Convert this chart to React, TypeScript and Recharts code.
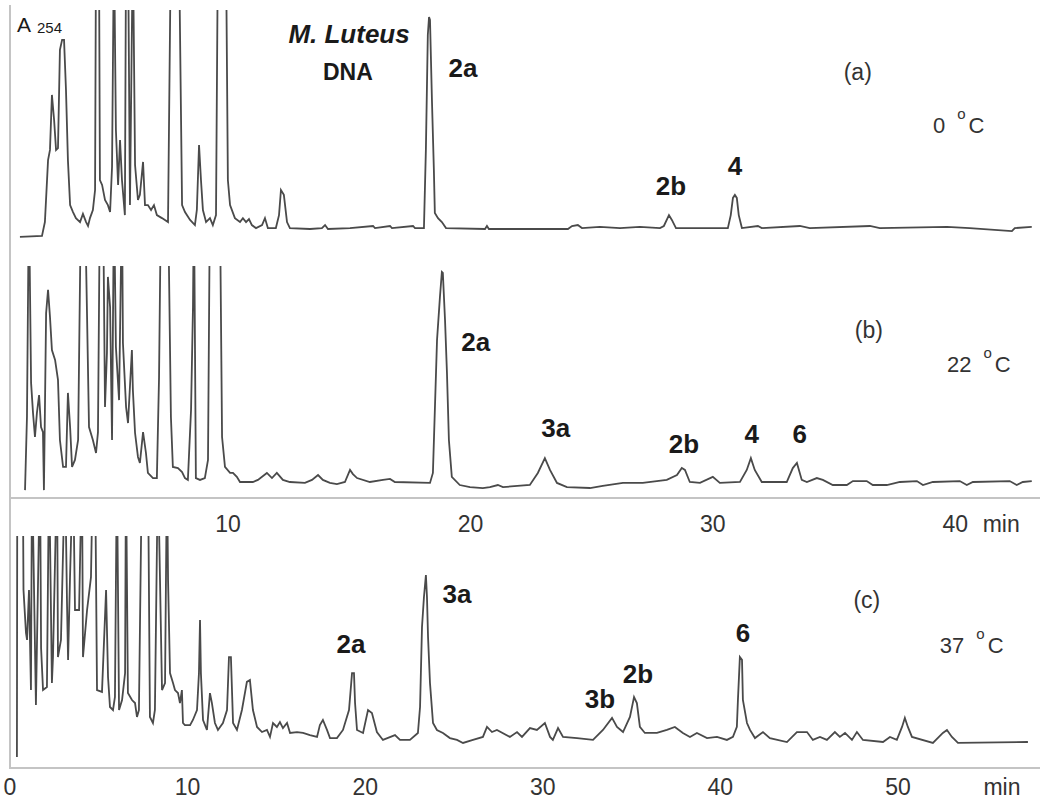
import React from 'react';
import { LineChart, Line, XAxis, YAxis, ReferenceDot } from 'recharts';

// [retention time (min), A254 (arb. units)] — values above 100 run off the top of the panel
const traceA: [number, number][] = [
  [1.41, 2.2], [2.32, 2.6], [2.44, 8.6], [2.57, 35.3], [2.65, 39.7], [2.73, 63.4], [2.82, 52.6],
  [2.9, 39.7], [2.98, 40.5], [3.06, 82.8], [3.15, 87.1], [3.23, 87.1], [3.31, 65.5], [3.39, 35.3],
  [3.48, 15.9], [3.6, 12.9], [3.72, 10.3], [3.89, 8.6], [4.01, 12.1], [4.14, 8.6], [4.22, 6.9],
  [4.3, 10.3], [4.42, 13.8], [4.51, 22.4], [4.55, 130], [4.67, 130], [4.71, 26.7], [4.8, 24.6],
  [4.92, 18.1], [5.04, 15.9], [5.13, 12.9], [5.21, 32.3], [5.29, 130], [5.37, 48.3], [5.46, 24.6],
  [5.54, 44.0], [5.62, 26.7], [5.74, 11.6], [5.79, 130], [5.87, 130], [5.95, 15.9], [6.07, 130],
  [6.16, 33.2], [6.28, 18.1], [6.36, 20.3], [6.49, 34.5], [6.57, 15.9], [6.69, 15.9], [6.82, 13.8],
  [6.94, 15.9], [7.06, 11.6], [7.27, 10.3], [7.52, 8.6], [7.64, 130], [7.97, 130], [8.1, 15.9],
  [8.22, 12.9], [8.43, 9.5], [8.63, 7.3], [8.71, 13.8], [8.8, 41.8], [8.88, 26.7], [8.96, 13.8],
  [9.09, 8.6], [9.25, 10.3], [9.37, 7.3], [9.5, 11.6], [9.58, 130], [9.91, 130], [9.99, 26.7],
  [10.08, 15.9], [10.28, 10.3], [10.49, 8.6], [10.61, 10.3], [10.74, 8.6], [10.86, 9.9], [10.98, 7.3],
  [11.15, 6.0], [11.4, 7.3], [11.52, 10.3], [11.64, 6.0], [11.97, 6.0], [12.1, 11.6], [12.18, 22.4],
  [12.3, 20.3], [12.43, 8.6], [12.55, 6.0], [13.38, 5.6], [13.87, 6.0], [14.0, 7.3], [14.12, 5.6],
  [15.03, 6.0], [15.98, 6.9], [16.06, 6.0], [16.68, 6.9], [16.76, 6.0], [17.63, 6.9], [17.71, 6.0],
  [18.08, 6.0], [18.16, 39.7], [18.24, 89.2], [18.29, 97.0], [18.33, 95.7], [18.41, 61.2], [18.49, 31.0],
  [18.53, 12.5], [18.66, 10.3], [18.82, 8.6], [18.99, 6.0], [20.6, 5.6], [20.68, 6.9], [20.76, 5.6],
  [24.02, 5.6], [24.19, 6.9], [24.43, 7.3], [24.6, 6.0], [25.34, 6.5], [26.17, 6.0], [26.99, 6.5],
  [27.82, 6.0], [27.98, 6.9], [28.19, 11.6], [28.31, 9.5], [28.48, 6.0], [30.62, 6.0], [30.74, 11.6],
  [30.83, 19.0], [30.91, 20.3], [30.99, 19.0], [31.07, 11.6], [31.2, 6.0], [31.86, 6.9], [32.02, 6.0],
  [33.59, 6.9], [34.0, 6.0], [36.48, 6.9], [36.89, 6.0], [39.66, 6.5], [40.6, 6.0], [42.34, 4.7],
  [42.46, 6.0], [43.16, 6.5],
];

const traceB: [number, number][] = [
  [1.62, 3.4], [1.7, 34.9], [1.78, 130], [1.87, 49.6], [1.95, 36.6], [2.03, 26.3], [2.11, 36.6],
  [2.2, 44.4], [2.28, 30.6], [2.36, 28.4], [2.4, 3.4], [2.49, 79.7], [2.57, 89.7], [2.65, 78.0],
  [2.73, 63.8], [2.86, 59.5], [2.98, 50.9], [3.06, 25.0], [3.19, 13.4], [3.31, 13.4], [3.39, 45.3],
  [3.48, 30.6], [3.56, 13.4], [3.68, 16.4], [3.81, 25.0], [3.93, 130], [4.09, 130], [4.18, 78.0],
  [4.26, 30.6], [4.42, 25.0], [4.55, 19.4], [4.63, 28.4], [4.71, 130], [4.84, 130], [4.92, 39.2],
  [5.0, 62.5], [5.04, 95.3], [5.13, 82.3], [5.21, 25.0], [5.29, 130], [5.37, 65.1], [5.5, 42.2],
  [5.62, 130], [5.66, 66.8], [5.79, 39.2], [5.87, 32.3], [6.03, 63.8], [6.07, 46.6], [6.16, 28.0],
  [6.28, 17.7], [6.36, 15.1], [6.49, 28.4], [6.61, 19.4], [6.69, 10.8], [6.9, 8.6], [7.06, 8.6],
  [7.15, 52.2], [7.23, 130], [7.52, 130], [7.64, 34.9], [7.72, 13.4], [7.93, 12.9], [8.1, 11.2],
  [8.22, 8.6], [8.34, 7.8], [8.47, 37.9], [8.55, 82.3], [8.59, 130], [8.67, 8.6], [8.84, 7.8],
  [9.04, 8.6], [9.17, 16.4], [9.25, 130], [9.66, 130], [9.75, 26.3], [9.87, 13.4], [10.08, 10.8],
  [10.2, 10.8], [10.36, 9.1], [10.49, 6.9], [11.02, 6.9], [11.23, 7.8], [11.6, 10.8], [11.81, 8.6],
  [12.01, 10.8], [12.26, 7.8], [12.55, 6.9], [13.17, 6.5], [13.46, 7.8], [13.71, 9.9], [13.91, 7.8],
  [14.2, 6.5], [14.49, 6.0], [14.82, 6.9], [15.03, 12.1], [15.15, 10.3], [15.32, 8.6], [15.85, 6.9],
  [16.39, 7.8], [16.68, 8.2], [16.88, 6.9], [18.33, 6.5], [18.45, 10.8], [18.62, 68.1], [18.74, 86.6],
  [18.82, 97.4], [18.86, 97.0], [18.95, 76.7], [19.03, 53.9], [19.11, 25.0], [19.23, 9.1], [19.56, 5.6],
  [19.98, 4.7], [20.51, 4.3], [20.8, 4.7], [21.13, 5.6], [21.34, 4.7], [22.45, 5.6], [22.78, 10.8],
  [23.07, 17.2], [23.28, 12.1], [23.57, 6.5], [23.98, 4.7], [24.93, 4.3], [25.46, 5.2], [26.29, 6.5],
  [27.11, 6.5], [28.1, 7.8], [28.52, 9.9], [28.72, 12.9], [28.85, 12.1], [29.05, 6.9], [29.47, 6.5],
  [30.0, 9.1], [30.29, 6.5], [31.12, 6.9], [31.4, 12.1], [31.57, 17.2], [31.73, 12.1], [32.02, 6.9],
  [33.05, 6.9], [33.3, 12.9], [33.47, 15.1], [33.67, 7.8], [33.88, 6.9], [34.29, 8.6], [34.54, 7.8],
  [34.95, 5.6], [35.53, 5.6], [35.78, 7.3], [36.35, 7.3], [36.6, 5.6], [37.18, 5.6], [37.72, 6.9],
  [38.42, 7.3], [38.67, 5.6], [39.08, 6.9], [40.19, 7.3], [40.48, 5.6], [40.73, 6.9], [42.25, 7.3],
  [42.54, 5.6], [42.79, 6.9], [43.16, 7.3],
];

const traceC: [number, number][] = [
  [0.39, 4.7], [0.41, 130], [0.72, 130], [0.76, 76.7], [0.9, 58.2], [0.96, 55.2], [1.07, 76.7],
  [1.18, 33.6], [1.24, 130], [1.46, 27.2], [1.69, 130], [1.75, 51.7], [1.86, 33.6], [2.08, 34.9],
  [2.2, 130], [2.36, 36.6], [2.42, 47.8], [2.65, 130], [2.7, 47.8], [2.87, 55.2], [3.1, 130],
  [3.21, 71.1], [3.27, 46.6], [3.38, 82.3], [3.55, 130], [3.66, 68.1], [3.89, 68.1], [4.05, 130],
  [4.11, 47.8], [4.34, 68.1], [4.56, 82.3], [4.67, 130], [4.79, 130], [4.9, 33.6], [5.18, 32.8],
  [5.41, 76.7], [5.52, 39.2], [5.63, 26.3], [5.8, 25.0], [5.91, 30.6], [6.02, 130], [6.14, 25.0],
  [6.31, 29.3], [6.48, 40.9], [6.53, 130], [6.64, 32.3], [6.87, 29.3], [7.04, 28.0], [7.15, 22.0],
  [7.26, 25.0], [7.43, 130], [7.77, 130], [7.88, 22.0], [8.05, 19.4], [8.16, 25.0], [8.33, 130],
  [8.56, 33.6], [8.73, 36.6], [8.84, 130], [8.9, 81.0], [9.01, 40.9], [9.18, 36.6], [9.29, 33.6],
  [9.46, 32.3], [9.57, 28.0], [9.68, 33.6], [9.74, 19.4], [9.85, 18.5], [10.14, 18.5], [10.3, 20.7],
  [10.53, 25.0], [10.64, 40.9], [10.7, 63.8], [10.75, 40.9], [10.87, 20.7], [11.09, 16.4], [11.26, 32.3],
  [11.37, 28.0], [11.54, 19.4], [11.71, 16.4], [11.99, 19.4], [12.22, 25.0], [12.33, 47.8], [12.44, 47.8],
  [12.56, 19.4], [12.78, 16.4], [13.06, 25.0], [13.34, 37.1], [13.51, 37.9], [13.68, 25.0], [13.91, 17.7],
  [14.19, 15.5], [14.47, 16.4], [14.64, 13.4], [14.81, 19.4], [15.03, 17.7], [15.2, 19.8], [15.37, 17.2],
  [15.6, 19.4], [15.77, 15.1], [16.16, 15.5], [16.5, 15.1], [16.89, 14.2], [17.29, 13.4], [17.45, 18.5],
  [17.62, 20.7], [17.85, 16.4], [18.02, 12.9], [18.41, 12.9], [18.75, 16.4], [19.09, 25.0], [19.26, 40.9],
  [19.37, 40.9], [19.43, 28.0], [19.54, 16.4], [19.88, 15.1], [20.16, 25.0], [20.38, 23.7], [20.66, 15.5],
  [21.0, 12.1], [21.68, 14.2], [21.96, 12.1], [22.52, 12.1], [22.97, 15.1], [23.09, 26.3], [23.2, 60.8],
  [23.31, 73.7], [23.42, 83.2], [23.48, 73.7], [23.54, 56.5], [23.65, 36.6], [23.82, 19.4], [24.04, 16.4],
  [24.38, 15.1], [24.77, 12.9], [25.17, 12.1], [25.51, 10.8], [26.07, 12.1], [26.63, 13.4], [26.86, 17.7],
  [27.14, 15.5], [27.42, 16.4], [28.15, 13.4], [28.55, 15.5], [28.83, 13.4], [29.28, 17.2], [29.67, 16.4],
  [30.12, 19.4], [30.41, 13.4], [30.57, 12.1], [30.86, 17.2], [31.14, 13.4], [31.93, 12.9], [32.83, 12.1],
  [33.39, 16.4], [33.9, 21.6], [34.18, 17.7], [34.52, 15.5], [34.91, 22.0], [35.14, 30.6], [35.3, 28.0],
  [35.47, 17.7], [35.75, 15.1], [36.43, 15.1], [36.99, 16.4], [37.44, 17.7], [37.89, 15.1], [38.29, 13.4],
  [38.68, 15.1], [39.25, 12.9], [39.81, 13.4], [40.37, 12.1], [40.71, 13.4], [40.93, 17.7], [40.99, 29.3],
  [41.1, 47.8], [41.22, 46.6], [41.27, 29.3], [41.5, 19.4], [41.67, 16.4], [41.95, 12.9], [42.4, 15.5],
  [42.79, 12.9], [43.75, 11.2], [44.31, 15.5], [44.88, 15.5], [45.21, 12.1], [45.61, 13.4], [46.0, 12.1],
  [46.45, 15.5], [46.73, 13.4], [47.02, 15.1], [47.41, 12.1], [47.69, 15.5], [48.03, 12.1], [49.16, 11.2],
  [49.55, 13.4], [49.94, 12.1], [50.23, 17.7], [50.39, 21.6], [50.56, 17.7], [50.79, 13.4], [51.97, 10.8],
  [52.53, 15.1], [52.76, 16.4], [53.04, 13.4], [53.38, 10.8], [57.32, 11.2],
];

const ticksB = [10, 20, 30, 40];
const ticksC = [0, 10, 20, 30, 40, 50];

type Note = { text: string; t: number; v: number };

// peak assignments, anchored next to the peaks they name
const peaksA: Note[] = [
  { text: '2a', t: 19.69, v: 71.1 },
  { text: '2b', t: 28.27, v: 20.3 },
  { text: '4', t: 30.91, v: 28.9 },
];
const peaksB: Note[] = [
  { text: '2a', t: 20.22, v: 63.4 },
  { text: '3a', t: 23.52, v: 26.3 },
  { text: '2b', t: 28.81, v: 19.4 },
  { text: '4', t: 31.61, v: 23.7 },
  { text: '6', t: 33.59, v: 23.7 },
];
const peaksC: Note[] = [
  { text: '2a', t: 19.2, v: 49.6 },
  { text: '3a', t: 25.17, v: 71.1 },
  { text: '3b', t: 33.22, v: 25.9 },
  { text: '2b', t: 35.36, v: 36.6 },
  { text: '6', t: 41.27, v: 54.3 },
];

const FONT = '"Liberation Sans", Arial, Helvetica, sans-serif';
const TRACE = '#4a4a4a';
const AXIS = '#c4c4c4';
const INK = '#1a1a1a';

const toRows = (trace: [number, number][]) => trace.map(([t, v]) => ({ t, v }));

const peakShape = (text: string) => (p: any) => (
  <text x={p.cx} y={p.cy} textAnchor="middle" fontFamily={FONT} fontWeight={700} fontSize={26} fill={INK}>
    {text}
  </text>
);

const tagShape = (text: string) => (p: any) => (
  <text x={p.cx} y={p.cy} textAnchor="middle" fontFamily={FONT} fontSize={23} fill="#333">
    {text}
  </text>
);

const tempShape = (text: string) => (p: any) => (
  <text x={p.cx} y={p.cy} fontFamily={FONT} fontSize={22} fill="#333">
    <tspan>{text}</tspan>
    <tspan dx={12} dy={-14} fontSize={15}>o</tspan>
    <tspan dx={3} dy={14}>C</tspan>
  </text>
);

const makeTick = (dy: number, last: number, unitDx: number) => (props: any) => {
  const { x, y, payload } = props;
  return (
    <g>
      <text x={x} y={y + dy} textAnchor="middle" fontFamily={FONT} fontSize={23} fill="#333">
        {payload.value}
      </text>
      {payload.value === last && (
        <text x={x + unitDx} y={y + dy} textAnchor="middle" fontFamily={FONT} fontSize={23} fill="#333">
          min
        </text>
      )}
    </g>
  );
};

interface PanelProps {
  trace: [number, number][];
  domain: [number, number];
  height: number;
  top: number;
  axisHeight?: number;
  ticks?: number[];
  tickDy?: number;
  unitDx?: number;
  peaks: Note[];
  tag: Note;
  temp: Note;
  children?: React.ReactNode;
}

function Panel({ trace, domain, height, top, axisHeight, ticks, tickDy = 0, unitDx = 0, peaks, tag, temp, children }: PanelProps) {
  const rows = toRows(trace);
  return (
    <div style={{ position: 'absolute', left: 0, top }}>
      <LineChart width={1050} height={height} data={rows} margin={{ top: 10, right: 10, bottom: axisHeight ? 0 : 8, left: 10 }}>
        <XAxis
          type="number"
          dataKey="t"
          domain={domain}
          allowDataOverflow
          hide={!ticks}
          ticks={ticks}
          interval={0}
          height={axisHeight}
          tickLine={false}
          axisLine={{ stroke: AXIS, strokeWidth: 2 }}
          tick={ticks ? makeTick(tickDy, ticks[ticks.length - 1], unitDx) : false}
        />
        <YAxis hide domain={[0, 100]} allowDataOverflow />
        <Line
          type="linear"
          dataKey="v"
          stroke={TRACE}
          strokeWidth={1.8}
          dot={false}
          isAnimationActive={false}
        />
        {peaks.map((p) => (
          <ReferenceDot key={p.text} x={p.t} y={p.v} r={0} shape={peakShape(p.text)} />
        ))}
        <ReferenceDot x={tag.t} y={tag.v} r={0} shape={tagShape(tag.text)} />
        <ReferenceDot x={temp.t} y={temp.v} r={0} shape={tempShape(temp.text)} />
        {children}
      </LineChart>
    </div>
  );
}

export default function App() {
  return (
    <div style={{ position: 'absolute', left: 0, top: 0, width: 1050, height: 805, background: '#fff', fontFamily: FONT }}>
      <div style={{ position: 'absolute', left: 9, top: 5, width: 2, height: 764, background: AXIS }} />
      <Panel
        trace={traceA}
        domain={[1, 43.5]}
        height={250}
        top={0}
        peaks={peaksA}
        tag={{ text: '(a)', t: 35.98, v: 69.8 }}
        temp={{ text: '0', t: 39.08, v: 47.0 }}
      >
        <ReferenceDot
          x={1.29}
          y={90.5}
          r={0}
          shape={(p: any) => (
            <text x={p.cx} y={p.cy} fontFamily={FONT} fontSize={21} fill={INK}>
              A<tspan dx={6} fontSize={15} dy={1}>254</tspan>
            </text>
          )}
        />
        <ReferenceDot
          x={14.99}
          y={85.8}
          r={0}
          shape={(p: any) => (
            <text x={p.cx} y={p.cy} textAnchor="middle" fontFamily={FONT} fontStyle="italic" fontWeight={700} fontSize={26} fill={INK}>
              M. Luteus
            </text>
          )}
        />
        <ReferenceDot
          x={14.94}
          y={69.8}
          r={0}
          shape={(p: any) => (
            <text x={p.cx} y={p.cy} textAnchor="middle" fontFamily={FONT} fontWeight={700} fontSize={23} fill={INK}>
              DNA
            </text>
          )}
        />
      </Panel>
      <Panel
        trace={traceB}
        domain={[1, 43.5]}
        height={282}
        top={256}
        axisHeight={40}
        ticks={ticksB}
        tickDy={26}
        unitDx={46}
        peaks={peaksB}
        tag={{ text: '(b)', t: 36.44, v: 69.0 }}
        temp={{ text: '22', t: 39.66, v: 54.3 }}
      />
      <Panel
        trace={traceC}
        domain={[0, 58]}
        height={279}
        top={526}
        axisHeight={37}
        ticks={ticksC}
        tickDy={19}
        unitDx={104}
        peaks={peaksC}
        tag={{ text: '(c)', t: 48.25, v: 69.0 }}
        temp={{ text: '37', t: 52.36, v: 49.6 }}
      />
    </div>
  );
}
